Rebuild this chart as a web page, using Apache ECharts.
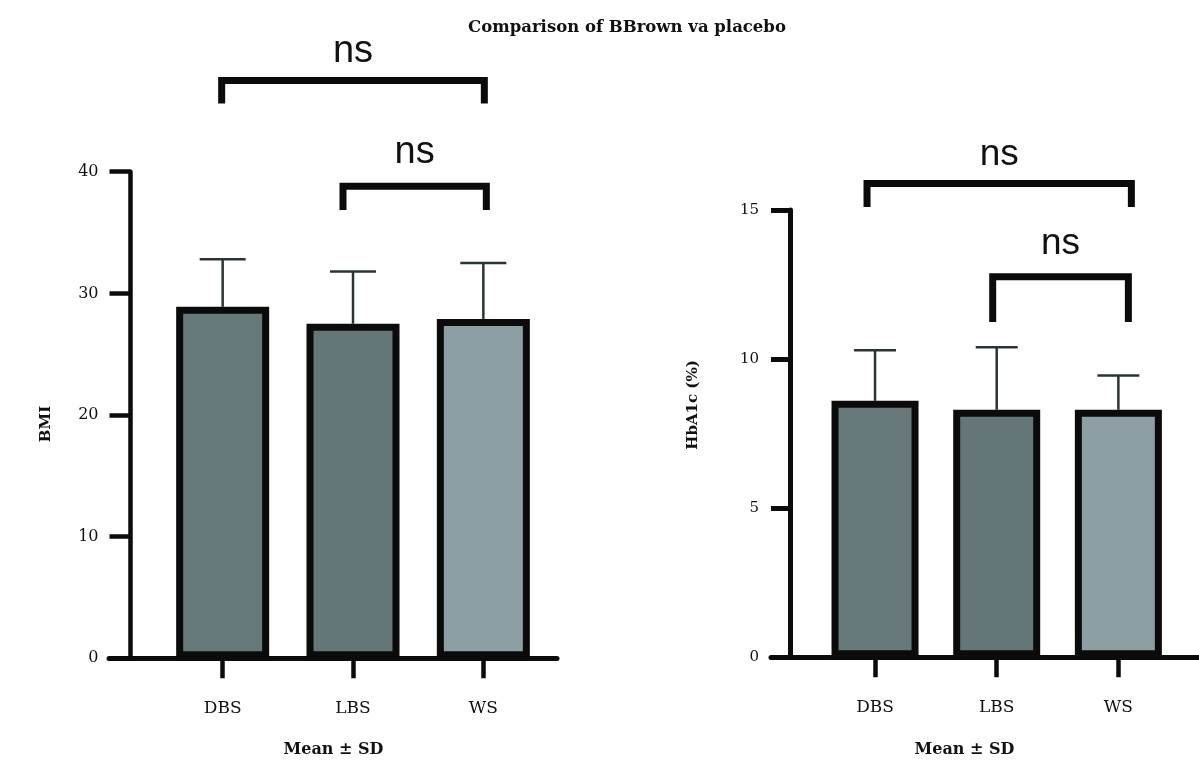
<!DOCTYPE html>
<html>
<head>
<meta charset="utf-8">
<script src="https://cdn.jsdelivr.net/npm/echarts@6/dist/echarts.min.js"></script>
<style>
  html, body { margin: 0; padding: 0; background: #ffffff; }
  #chart { width: 1199px; height: 760px; }
</style>
</head>
<body>
<div id="chart"></div>
<script>
// ---- data ----
const groups = ['DBS', 'LBS', 'WS'];
const bmiMean = [28.9, 27.5, 27.9];
const bmiSD = [3.9, 4.3, 4.6];
const hba1cMean = [8.6, 8.3, 8.3];
const hba1cSD = [1.7, 2.1, 1.15];
const bmiTicks = [0, 10, 20, 30, 40];
const hba1cTicks = [0, 5, 10, 15];
const comparisons = [['DBS', 'WS', 'ns'], ['LBS', 'WS', 'ns']];

// ---- styling ----
const SERIF = '"DejaVu Serif", "Liberation Serif", serif';
const SANS = '"Liberation Sans", Arial, sans-serif';
const barColors = ['#667879', '#647677', '#8e9fa4'];
const ink = '#0b0b0b';
const whiskerColor = '#2b3435';

// bracket levels (value units) and small pixel nudges of the legs
const bmiBracketLayout = [
  { bar: 47.5, leg: 45.6, text: 49.9, dx: [-1, 1] },
  { bar: 38.8, leg: 36.85, text: 41.6, dx: [-10, 3] }
];
const hbaBracketLayout = [
  { bar: 15.89, leg: 15.1, text: 16.85, dx: [-8, 13] },
  { bar: 12.76, leg: 11.24, text: 13.85, dx: [-4, 10] }
];

function valueAxis(grid, ticks, offset, labelSize, labelMargin, tickLen, lineW) {
  return {
    type: 'value', gridIndex: grid,
    min: ticks[0], max: ticks[ticks.length - 1], interval: ticks[1] - ticks[0],
    offset: offset,
    axisLine: { show: true, lineStyle: { color: ink, width: lineW } },
    axisTick: { show: true, inside: false, length: tickLen, lineStyle: { color: ink, width: lineW } },
    axisLabel: { show: true, margin: labelMargin, color: '#111', fontFamily: SERIF, fontSize: labelSize },
    splitLine: { show: false }
  };
}

function categoryAxis(grid, margin) {
  return {
    type: 'category', gridIndex: grid, data: groups,
    axisLine: { show: false },
    axisTick: { show: true, alignWithLabel: true, length: 20, lineStyle: { color: ink, width: 4.5 } },
    axisLabel: { show: true, margin: margin, color: '#111', fontFamily: SERIF, fontSize: 17 },
    splitLine: { show: false }
  };
}

// the bar border is drawn inside the bar's rectangle, so barWidth is the outer width
function barSeries(grid, values, width) {
  return {
    type: 'bar', xAxisIndex: grid, yAxisIndex: grid, barWidth: width, z: 3,
    data: values.map((v, i) => ({
      value: v,
      itemStyle: { color: barColors[i], borderColor: ink, borderWidth: 7 }
    }))
  };
}

function errorSeries(grid, means, sds, capW) {
  return {
    type: 'custom', xAxisIndex: grid, yAxisIndex: grid, z: 2,
    data: groups.map((g, i) => [i, means[i], means[i] + sds[i]]),
    renderItem(params, api) {
      const base = api.coord([api.value(0), api.value(1)]);
      const top = api.coord([api.value(0), api.value(2)]);
      const st = { stroke: whiskerColor, lineWidth: 2.5 };
      return {
        type: 'group',
        children: [
          { type: 'line', shape: { x1: base[0], y1: base[1], x2: top[0], y2: top[1] }, style: st },
          { type: 'line', shape: { x1: top[0] - capW / 2, y1: top[1], x2: top[0] + capW / 2, y2: top[1] }, style: st }
        ]
      };
    }
  };
}

function bracketSeries(grid, layout, fontSize) {
  return {
    type: 'custom', xAxisIndex: grid, yAxisIndex: grid, z: 5, clip: false,
    data: comparisons.map(c => [groups.indexOf(c[0]), groups.indexOf(c[1])]),
    renderItem(params, api) {
      const L = layout[params.dataIndex];
      const label = comparisons[params.dataIndex][2];
      const a = api.coord([api.value(0), L.bar]);
      const b = api.coord([api.value(1), L.bar]);
      const legY = api.coord([api.value(0), L.leg])[1];
      const tY = api.coord([api.value(0), L.text])[1];
      const x1 = a[0] + L.dx[0], x2 = b[0] + L.dx[1];
      return {
        type: 'group',
        children: [
          {
            type: 'polyline',
            shape: { points: [[x1, legY], [x1, a[1]], [x2, a[1]], [x2, legY]] },
            style: { stroke: ink, lineWidth: 7, fill: null, lineJoin: 'miter' }
          },
          {
            type: 'text', x: (x1 + x2) / 2, y: tY,
            style: { text: label, font: fontSize + 'px ' + SANS, fill: '#111', align: 'center', verticalAlign: 'middle' }
          }
        ]
      };
    }
  };
}

function baseLineAxis(grid) {
  return {
    type: 'value', gridIndex: grid, min: 0, max: 1,
    axisLine: { show: true, lineStyle: { color: ink, width: 5 } },
    axisTick: { show: false }, axisLabel: { show: false }, splitLine: { show: false }
  };
}
function hiddenAxis(grid) {
  return { type: 'value', gridIndex: grid, show: false, min: 0, max: 1 };
}

const option = {
  backgroundColor: '#ffffff',
  animation: false,
  grid: [
    { left: 157.5, top: 171.7, width: 391, height: 486.6, containLabel: false, outerBoundsMode: 'none' },
    { left: 814.2, top: 210, width: 365, height: 447.3, containLabel: false, outerBoundsMode: 'none' },
    { left: 109, top: 100, width: 448, height: 558.3, containLabel: false, outerBoundsMode: 'none' },
    { left: 771, top: 100, width: 428, height: 557.3, containLabel: false, outerBoundsMode: 'none' }
  ],
  xAxis: [
    categoryAxis(0, 42),
    categoryAxis(1, 42),
    baseLineAxis(2),
    baseLineAxis(3)
  ],
  yAxis: [
    valueAxis(0, bmiTicks, 27, 16, 32, 21, 4.5),
    valueAxis(1, hba1cTicks, 24.2, 15, 31, 19, 5),
    hiddenAxis(2),
    hiddenAxis(3)
  ],
  graphic: [
    { type: 'text', x: 627, y: 28, style: { text: 'Comparison of BBrown va placebo', font: 'bold 16.5px ' + SERIF, fill: '#111', align: 'center', verticalAlign: 'middle' } },
    { type: 'text', x: 333.5, y: 750, style: { text: 'Mean ± SD', font: 'bold 16px ' + SERIF, fill: '#111', align: 'center', verticalAlign: 'middle' } },
    { type: 'text', x: 964.5, y: 750, style: { text: 'Mean ± SD', font: 'bold 16px ' + SERIF, fill: '#111', align: 'center', verticalAlign: 'middle' } },
    { type: 'text', x: 46, y: 424, rotation: Math.PI / 2, style: { text: 'BMI', font: 'bold 15px ' + SERIF, fill: '#111', align: 'center', verticalAlign: 'middle' } },
    { type: 'text', x: 693, y: 405, rotation: Math.PI / 2, style: { text: 'HbA1c (%)', font: 'bold 15px ' + SERIF, fill: '#111', align: 'center', verticalAlign: 'middle' } }
  ],
  series: [
    errorSeries(0, bmiMean, bmiSD, 46),
    barSeries(0, bmiMean, 93),
    bracketSeries(0, bmiBracketLayout, 38),
    errorSeries(1, hba1cMean, hba1cSD, 42),
    barSeries(1, hba1cMean, 87),
    bracketSeries(1, hbaBracketLayout, 37)
  ]
};

const chart = echarts.init(document.getElementById('chart'), null, { renderer: 'canvas' });
chart.setOption(option);
</script>
</body>
</html>
